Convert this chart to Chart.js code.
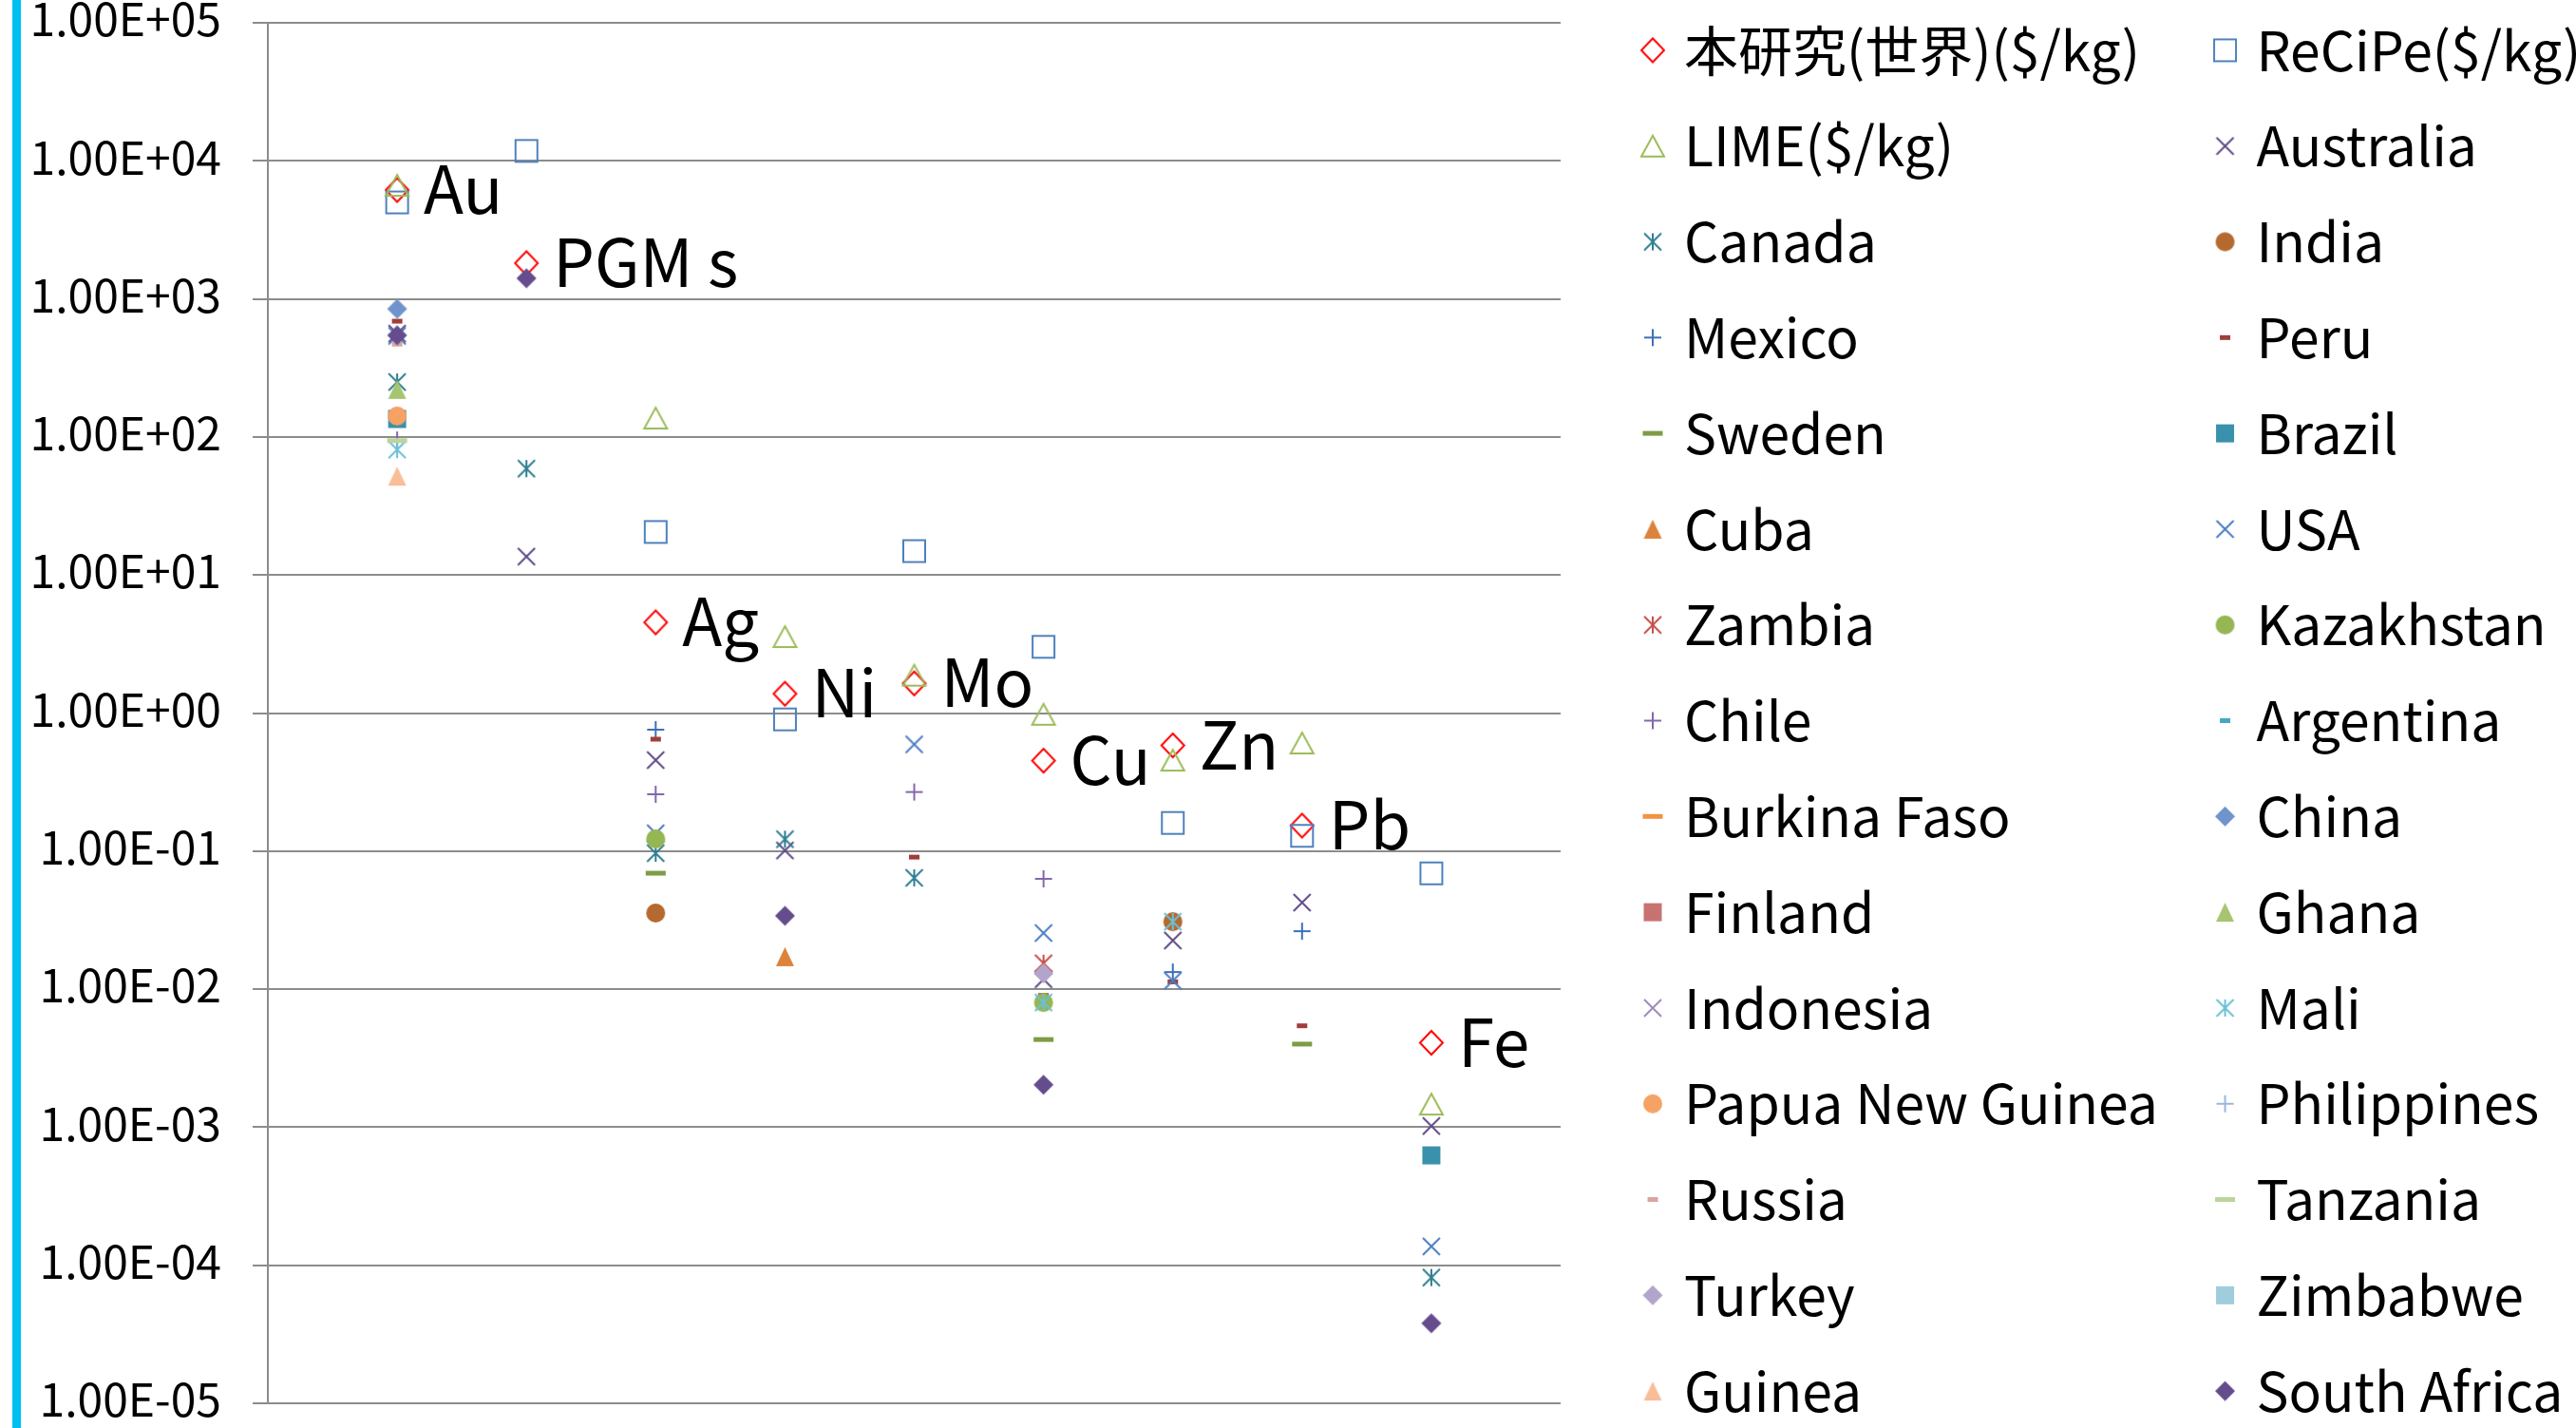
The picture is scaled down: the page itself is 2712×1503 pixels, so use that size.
<!DOCTYPE html>
<html lang="ja">
<head>
<meta charset="utf-8">
<title>金属価格の比較</title>
<script src="https://cdn.jsdelivr.net/npm/chart.js"></script>
<style>
  html, body { margin: 0; padding: 0; background: #ffffff; overflow: hidden; }
  #wrap { position: relative; width: 2712px; height: 1503px; overflow: hidden; background: #ffffff; }
  #accent { position: absolute; left: 13px; top: 0; width: 9px; height: 1503px; background: #00c0f2; }
  #chart { position: absolute; left: 0; top: -47px; }
</style>
</head>
<body>
<div id="wrap">
  <canvas id="chart" width="2712" height="1611"></canvas>
  <div id="accent"></div>
</div>
<script>
// ---- categories and axis ----
const metals = ['Au', 'PGM s', 'Ag', 'Ni', 'Mo', 'Cu', 'Zn', 'Pb', 'Fe'];
const metalX = [1, 2, 3, 4, 5, 6, 7, 8, 9];
const yTickValues = [1e-5, 1e-4, 1e-3, 1e-2, 1e-1, 1e0, 1e1, 1e2, 1e3, 1e4, 1e5];
const yTickLabels = ['1.00E-05', '1.00E-04', '1.00E-03', '1.00E-02', '1.00E-01', '1.00E+00',
                     '1.00E+01', '1.00E+02', '1.00E+03', '1.00E+04', '1.00E+05'];

// ---- values per metal (Au, PGM s, Ag, Ni, Mo, Cu, Zn, Pb, Fe), $/kg ----
const valThisStudy   = [6150, 1815, 4.54, 1.38, 1.64, 0.452, 0.583, 0.153, 0.00409];
const valReCiPe      = [5000, 11800, 20.5, 0.90, 14.9, 3.02, 0.160, 0.129, 0.0690];
const valLIME        = [6650, null, 137, 3.58, 1.88, 0.98, 0.456, 0.607, 0.00147];
const valAustralia   = [560, 13.6, 0.456, 0.101, null, 0.0118, 0.0225, 0.0424, 0.00102];
const valCanada      = [250, 59, 0.0966, 0.122, 0.064, null, null, null, 0.0000815];
const valIndia       = [null, null, 0.0356, null, null, null, 0.0308, null, null];
const valMexico      = [null, null, 0.758, null, null, null, 0.0133, 0.0263, null];
const valPeru        = [690, null, 0.647, null, 0.0905, 0.0090, 0.0113, 0.00543, null];
const valSweden      = [null, null, 0.0692, null, null, 0.00432, null, 0.0040, null];
const valBrazil      = [135, null, null, null, null, null, null, null, 0.000625];
const valCuba        = [null, null, null, 0.0172, null, null, null, null, null];
const valUSA         = [540, null, 0.1346, null, 0.593, 0.0255, 0.0115, null, 0.000137];
const valZambia      = [null, null, null, null, null, 0.0154, null, null, null];
const valKazakhstan  = [null, null, 0.1225, null, null, 0.0080, null, null, null];
const valChile       = [95, null, 0.258, null, 0.268, 0.063, null, null, null];
const valArgentina   = [null, null, null, null, null, null, null, null, null];
const valBurkinaFaso = [null, null, null, null, null, null, null, null, null];
const valChina       = [847, null, null, null, null, null, null, null, null];
const valFinland     = [null, null, null, null, null, null, null, null, null];
const valGhana       = [221, null, null, null, null, null, null, null, null];
const valIndonesia   = [null, null, null, null, null, null, null, null, null];
const valMali        = [81, null, null, null, null, 0.0080, 0.0308, null, null];
const valPNG         = [142, null, null, null, null, null, null, null, null];
const valPhilippines = [null, null, null, null, null, null, null, null, null];
const valRussia      = [470, null, null, null, null, null, null, null, null];
const valTanzania    = [94, null, null, null, null, null, null, null, null];
const valTurkey      = [null, null, null, null, null, 0.0130, null, null, null];
const valZimbabwe    = [null, null, null, null, null, null, null, null, null];
const valGuinea      = [52, null, null, null, null, null, null, null, null];
const valSouthAfrica = [545, 1410, null, 0.034, null, 0.00203, null, null, 0.000038];

const seriesNames = ['本研究(世界)($/kg)', 'ReCiPe($/kg)', 'LIME($/kg)', 'Australia', 'Canada', 'India',
  'Mexico', 'Peru', 'Sweden', 'Brazil', 'Cuba', 'USA', 'Zambia', 'Kazakhstan', 'Chile', 'Argentina',
  'Burkina Faso', 'China', 'Finland', 'Ghana', 'Indonesia', 'Mali', 'Papua New Guinea', 'Philippines',
  'Russia', 'Tanzania', 'Turkey', 'Zimbabwe', 'Guinea', 'South Africa'];

const seriesValues = [valThisStudy, valReCiPe, valLIME, valAustralia, valCanada, valIndia, valMexico,
  valPeru, valSweden, valBrazil, valCuba, valUSA, valZambia, valKazakhstan, valChile, valArgentina,
  valBurkinaFaso, valChina, valFinland, valGhana, valIndonesia, valMali, valPNG, valPhilippines,
  valRussia, valTanzania, valTurkey, valZimbabwe, valGuinea, valSouthAfrica];

// ---- marker look for each series (shape, size, colour, open/filled) ----
const markerStyles = [
  { shape: 'diamond',  w: 24, h: 25, color: '#ff0000', open: true },
  { shape: 'square',   w: 23, h: 23, color: '#4f81bd', open: true },
  { shape: 'triangle', w: 24, h: 22, color: '#9bbb59', open: true },
  { shape: 'x',        w: 18, h: 18, color: '#5f4a87' },
  { shape: 'star',     w: 18, h: 18, color: '#2f7f92' },
  { shape: 'circle',   w: 20, h: 20, color: '#b5692e' },
  { shape: 'plus',     w: 18, h: 18, color: '#3e70b8' },
  { shape: 'dash',     w: 11, h: 5,  color: '#a03e3b' },
  { shape: 'dash',     w: 21, h: 5,  color: '#7d9c46' },
  { shape: 'square',   w: 19, h: 19, color: '#3a91ab' },
  { shape: 'triangle', w: 19, h: 20, color: '#dc823a' },
  { shape: 'x',        w: 18, h: 18, color: '#4a7dc4' },
  { shape: 'star',     w: 18, h: 18, color: '#c84f4b' },
  { shape: 'circle',   w: 20, h: 20, color: '#95b653' },
  { shape: 'plus',     w: 18, h: 18, color: '#8467ad' },
  { shape: 'dash',     w: 11, h: 5,  color: '#44a8c4' },
  { shape: 'dash',     w: 21, h: 5,  color: '#f29340' },
  { shape: 'diamond',  w: 21, h: 21, color: '#6f93cc' },
  { shape: 'square',   w: 19, h: 19, color: '#c97272' },
  { shape: 'triangle', w: 19, h: 20, color: '#a7c470' },
  { shape: 'x',        w: 18, h: 18, color: '#9c8bbb' },
  { shape: 'star',     w: 18, h: 18, color: '#6bc0d6' },
  { shape: 'circle',   w: 20, h: 20, color: '#f6a265' },
  { shape: 'plus',     w: 18, h: 18, color: '#9ab6de' },
  { shape: 'dash',     w: 11, h: 5,  color: '#dca4a2' },
  { shape: 'dash',     w: 21, h: 5,  color: '#bcd49c' },
  { shape: 'diamond',  w: 21, h: 21, color: '#b2a4ca' },
  { shape: 'square',   w: 19, h: 19, color: '#a0cddd' },
  { shape: 'triangle', w: 19, h: 20, color: '#f9bd98' },
  { shape: 'diamond',  w: 21, h: 21, color: '#654c8c' }
];

// Paint one marker glyph on a small canvas; Chart.js uses it as the point style.
function makeMarker(m) {
  const pad = 3;
  const cv = document.createElement('canvas');
  cv.width = Math.ceil(m.w + 2 * pad);
  cv.height = Math.ceil(m.h + 2 * pad);
  const c = cv.getContext('2d');
  const cx = cv.width / 2, cy = cv.height / 2;
  const hw = m.w / 2, hh = m.h / 2;
  c.lineWidth = 2;
  c.strokeStyle = m.color;
  c.fillStyle = m.color;
  c.beginPath();
  let stroke = !!m.open;
  switch (m.shape) {
    case 'diamond':
      c.moveTo(cx, cy - hh); c.lineTo(cx + hw, cy); c.lineTo(cx, cy + hh); c.lineTo(cx - hw, cy); c.closePath();
      break;
    case 'square':
      c.rect(cx - hw, cy - hh, m.w, m.h);
      break;
    case 'triangle':
      c.moveTo(cx, cy - hh); c.lineTo(cx + hw, cy + hh); c.lineTo(cx - hw, cy + hh); c.closePath();
      break;
    case 'circle':
      c.arc(cx, cy, hw, 0, Math.PI * 2);
      break;
    case 'dash':
      c.rect(cx - hw, cy - hh, m.w, m.h);
      break;
    case 'x':
      c.moveTo(cx - hw, cy - hh); c.lineTo(cx + hw, cy + hh);
      c.moveTo(cx + hw, cy - hh); c.lineTo(cx - hw, cy + hh);
      stroke = true;
      break;
    case 'plus':
      c.moveTo(cx, cy - hh); c.lineTo(cx, cy + hh);
      c.moveTo(cx - hw, cy); c.lineTo(cx + hw, cy);
      stroke = true;
      break;
    case 'star':
      c.moveTo(cx - hw, cy - hh); c.lineTo(cx + hw, cy + hh);
      c.moveTo(cx + hw, cy - hh); c.lineTo(cx - hw, cy + hh);
      c.moveTo(cx, cy - hh); c.lineTo(cx, cy + hh);
      stroke = true;
      break;
  }
  if (stroke) c.stroke(); else c.fill();
  return cv;
}

const datasets = seriesNames.map((name, i) => ({
  label: name,
  data: seriesValues[i]
    .map((v, k) => ({ x: metalX[k], y: v }))
    .filter(p => p.y !== null),
  pointStyle: makeMarker(markerStyles[i]),
  pointRadius: 10,
  pointHoverRadius: 10,
  showLine: false,
  // later series are painted on top of earlier ones
  order: seriesNames.length - i
}));

// two legend columns, filled row by row
function legendRank(idx) {
  return idx % 2 === 0 ? idx / 2 : Math.ceil(seriesNames.length / 2) + (idx - 1) / 2;
}

const textFont = 'Noto Sans CJK JP';

// metal names written beside the 本研究 points
const metalLabels = {
  id: 'metalLabels',
  afterDatasetsDraw(chart) {
    const meta = chart.getDatasetMeta(0);
    const ds = chart.data.datasets[0];
    const ctx = chart.ctx;
    ctx.save();
    ctx.font = '69px "' + textFont + '"';
    ctx.fillStyle = '#000000';
    ctx.textAlign = 'left';
    ctx.textBaseline = 'alphabetic';
    meta.data.forEach((pt, i) => {
      const raw = ds.data[i];
      ctx.fillText(metals[metalX.indexOf(raw.x)], pt.x + 28, pt.y + 25);
    });
    ctx.restore();
  }
};

new Chart(document.getElementById('chart'), {
  type: 'scatter',
  data: { datasets },
  plugins: [metalLabels],
  options: {
    responsive: false,
    animation: false,
    devicePixelRatio: 1,
    events: [],
    layout: { padding: 0, autoPadding: false },
    scales: {
      x: {
        type: 'linear', position: 'bottom', min: 0, max: 10,
        ticks: { display: false },
        grid: { display: false, drawTicks: false },
        border: { display: false },
        afterFit(s) { s.height = 87; }
      },
      xTop: {
        type: 'linear', position: 'top',
        ticks: { display: false },
        grid: { display: false, drawTicks: false },
        border: { display: false },
        afterFit(s) { s.height = 71; }
      },
      y: {
        type: 'logarithmic', position: 'left', min: 1e-5, max: 1e5,
        afterBuildTicks(s) { s.ticks = yTickValues.map(v => ({ value: v })); },
        afterFit(s) { s.width = 282; },
        grid: { color: '#8c8c8c', lineWidth: 2, tickLength: 16, drawTicks: true },
        border: { display: true, color: '#8c8c8c', width: 2 },
        ticks: {
          autoSkip: false, padding: 33, labelOffset: -4, color: '#000000',
          font: { family: textFont, size: 48 },
          callback: (v, i) => yTickLabels[i]
        }
      },
      yRight: {
        type: 'linear', position: 'right',
        ticks: { display: false },
        grid: { display: false, drawTicks: false },
        border: { display: false },
        afterFit(s) { s.width = 48.7; }
      }
    },
    plugins: {
      tooltip: { enabled: false },
      legend: {
        position: 'right',
        align: 'center',
        maxWidth: 1020.3,
        labels: {
          usePointStyle: true,
          boxWidth: 9,
          padding: 43.8,
          color: '#000000',
          font: { family: textFont, size: 57 },
          generateLabels(chart) {
            const items = Chart.defaults.plugins.legend.labels.generateLabels(chart);
            // widen the first row so the second column lines up
            items.forEach(it => {
              if (it.datasetIndex === 0) it.text += '\u2002 ';
              if (it.datasetIndex === 1) it.text += '\u3000\u3000';
            });
            return items;
          },
          sort: (a, b) => legendRank(a.datasetIndex) - legendRank(b.datasetIndex)
        }
      }
    }
  }
});
</script>
</body>
</html>
